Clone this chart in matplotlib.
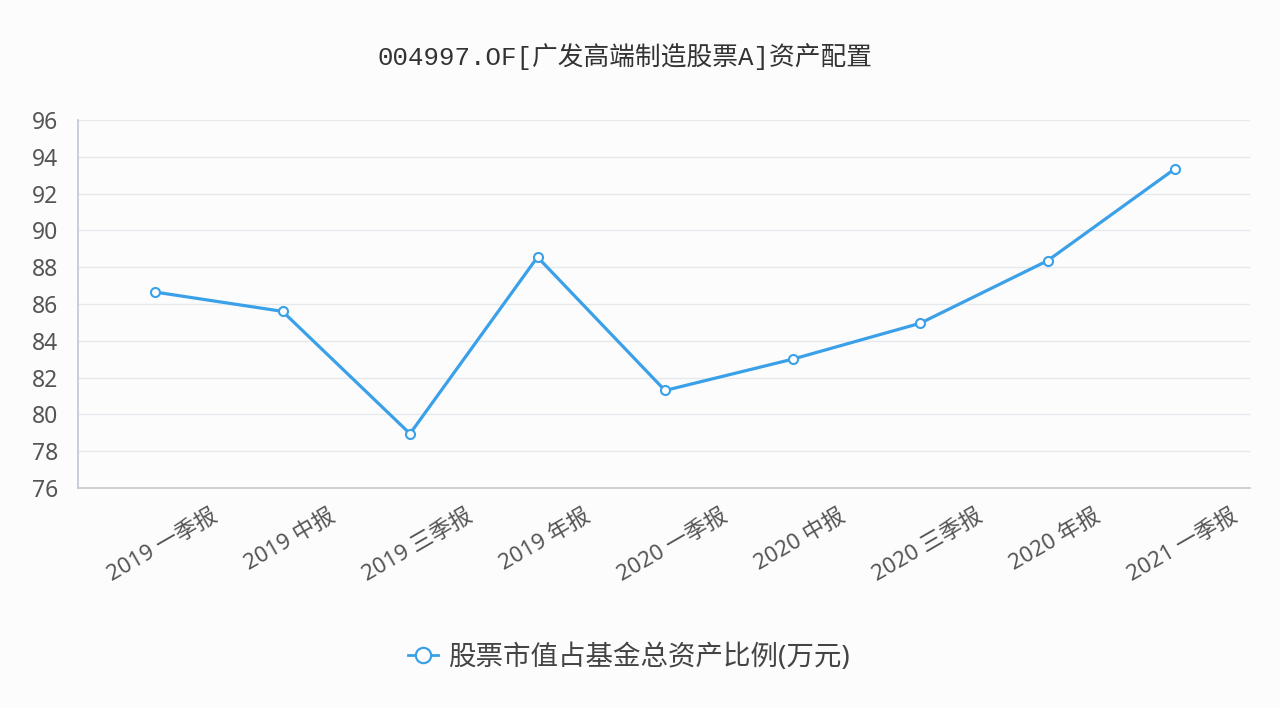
import matplotlib
matplotlib.use("Agg")
import matplotlib.pyplot as plt
import matplotlib.transforms as mtransforms
from matplotlib.lines import Line2D

plt.rcParams['font.family'] = ['Noto Sans', 'Noto Sans CJK SC', 'DejaVu Sans']

title = "004997.OF[广发高端制造股票A]资产配置"
categories = ["2019 一季报", "2019 中报", "2019 三季报", "2019 年报",
              "2020 一季报", "2020 中报", "2020 三季报", "2020 年报", "2021 一季报"]
values = [86.65, 85.6, 78.95, 88.55, 81.3, 83.0, 84.95, 88.35, 93.35]
series_name = "股票市值占基金总资产比例(万元)"
yticks = [76, 78, 80, 82, 84, 86, 88, 90, 92, 94, 96]

line_color = "#3aa0e8"
bg = "#fcfcfd"

fig = plt.figure(figsize=(12.8, 7.08), dpi=100, facecolor=bg)
ax = fig.add_axes([78/1280, 1-488/708, (1250-78)/1280, (488-120)/708], facecolor=bg)

x = list(range(len(categories)))
ax.plot(x, values, color=line_color, lw=2.3, marker='o', markersize=6.5,
        markerfacecolor='white', markeredgecolor=line_color, markeredgewidth=1.5,
        zorder=3, solid_joinstyle='round')

ax.set_ylim(76, 96)
ax.set_yticks(yticks)
ax.set_xlim(-(155-78)/127.5, 8 + (1250-1175)/127.5)
ax.set_xticks(x)
ax.set_xticklabels(categories, rotation=30, ha='center', va='top')

ax.grid(axis='y', color='#e6e8eb', lw=1.0, zorder=0)
ax.grid(axis='x', visible=False)
for s in ['top', 'right']:
    ax.spines[s].set_visible(False)
ax.spines['left'].set_color('#bfc6cf')
ax.spines['left'].set_linewidth(1.2)
ax.spines['bottom'].set_color('#c6c9cd')
ax.spines['bottom'].set_linewidth(1.2)

ax.tick_params(axis='y', length=0, pad=14, labelsize=16.5, labelcolor='#555555')
ax.tick_params(axis='x', length=0, pad=13, labelsize=16, labelcolor='#555555')

offset = mtransforms.ScaledTranslation(8/100, 0, fig.dpi_scale_trans)
for lab in ax.get_xticklabels():
    lab.set_transform(lab.get_transform() + offset)

fig.text(0.488, 1-57/708, title, ha='center', va='center', fontsize=18.5,
         color='#333333', family=['Liberation Mono', 'Noto Sans CJK SC'])

handle = Line2D([0], [0], color=line_color, lw=2.0, marker='o', markersize=11,
                markerfacecolor='white', markeredgecolor=line_color, markeredgewidth=1.6)
leg = fig.legend([handle], [series_name], loc='center', bbox_to_anchor=(629/1280, 1-658/708),
                 frameon=False, fontsize=19.8, handlelength=1.1, handletextpad=0.36,
                 labelcolor='#444444')

fig.savefig("out.png", dpi=100, facecolor=bg)
